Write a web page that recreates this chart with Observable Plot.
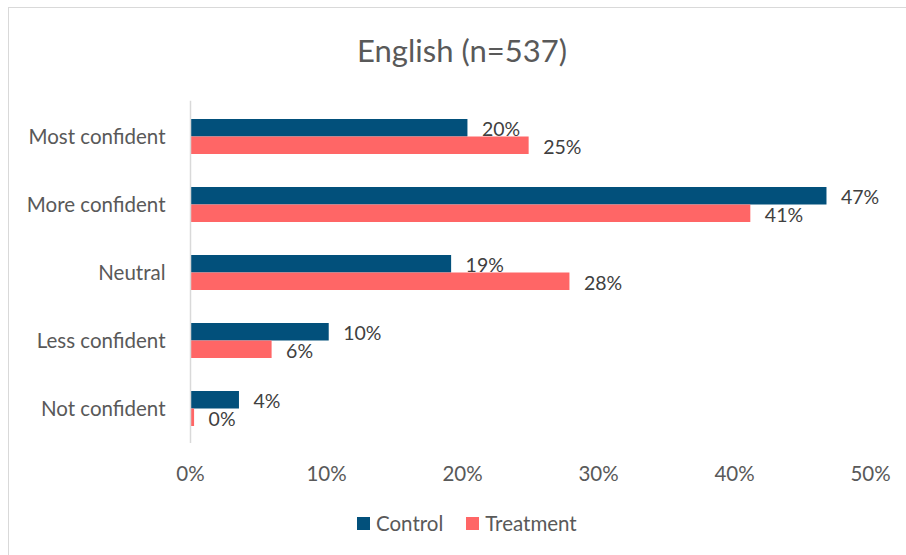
<!DOCTYPE html>
<html>
<head>
<meta charset="utf-8">
<script src="https://cdn.jsdelivr.net/npm/d3@7"></script>
<script src="https://cdn.jsdelivr.net/npm/@observablehq/plot@0.6"></script>
<style>
  html, body { margin: 0; padding: 0; background: #fff; }
  #wrap { position: relative; width: 906px; height: 555px; overflow: hidden; font-family: Lato, "Open Sans", sans-serif; }
  #frame { position: absolute; left: 8px; top: 7px; width: 920px; height: 560px; border-left: 1.5px solid #d9d9d9; border-top: 1.5px solid #d9d9d9; }
  #title { position: absolute; left: 0; top: 30px; width: 924px; text-align: center; font-size: 31px; line-height: 40px; color: #595959; }
  #chart { position: absolute; left: 0; top: 85px; }
  #legend { position: absolute; left: 357px; top: 511px; display: flex; align-items: center; gap: 23px; font-size: 20.5px; color: #595959; line-height: 24px; }
  .item { display: flex; align-items: center; gap: 6px; }
  .sw { width: 13px; height: 13px; display: inline-block; }
</style>
</head>
<body>
<div id="wrap">
  <div id="frame"></div>
  <div id="title">English (n=537)</div>
  <div id="chart"></div>
  <div id="legend"></div>
</div>
<script>
const categories = ["Most confident", "More confident", "Neutral", "Less confident", "Not confident"];
const control = [20.4, 46.8, 19.2, 10.2, 3.6];
const treatment = [24.9, 41.2, 27.9, 6.0, 0.3];
const seriesNames = ["Control", "Treatment"];
const seriesColors = ["#02507b", "#ff6666"];
const xTicks = [0, 10, 20, 30, 40, 50];

const rows = categories.map((c, i) => ({category: c, control: control[i], treatment: treatment[i]}));

const chart = Plot.plot({
  width: 906,
  height: 415,
  marginLeft: 190,
  marginRight: 36,
  marginTop: 15.75,
  marginBottom: 57,
  style: {fontFamily: "Lato, 'Open Sans', sans-serif", fontSize: "20.5px", color: "#595959", background: "transparent", overflow: "visible"},
  x: {domain: [0, 50]},
  y: {domain: categories, paddingInner: 0.49, paddingOuter: 0.245},
  marks: [
    Plot.barX(rows, {y: "category", x: "control", fill: seriesColors[0], insetBottom: 17.5}),
    Plot.barX(rows, {y: "category", x: "treatment", fill: seriesColors[1], insetTop: 17.5}),
    Plot.ruleX([0], {stroke: "#d9d9d9", strokeWidth: 1.5}),
    Plot.text(rows, {y: "category", x: "control", text: d => Math.round(d.control) + "%", textAnchor: "start", dx: 14, dy: -7, fill: "#404040", fontSize: 19.5}),
    Plot.text(rows, {y: "category", x: "treatment", text: d => Math.round(d.treatment) + "%", textAnchor: "start", dx: 14, dy: 11, fill: "#404040", fontSize: 19.5}),
    Plot.axisY({tickSize: 0, tickPadding: 25, label: null}),
    Plot.axisX({ticks: xTicks, tickFormat: d => d + "%", tickSize: 0, tickPadding: 23, label: null})
  ]
});
document.getElementById("chart").appendChild(chart);

const legend = document.getElementById("legend");
seriesNames.forEach((name, i) => {
  const item = document.createElement("div");
  item.className = "item";
  const sw = document.createElement("span");
  sw.className = "sw";
  sw.style.background = seriesColors[i];
  const t = document.createElement("span");
  t.textContent = name;
  item.appendChild(sw);
  item.appendChild(t);
  legend.appendChild(item);
});
</script>
</body>
</html>
